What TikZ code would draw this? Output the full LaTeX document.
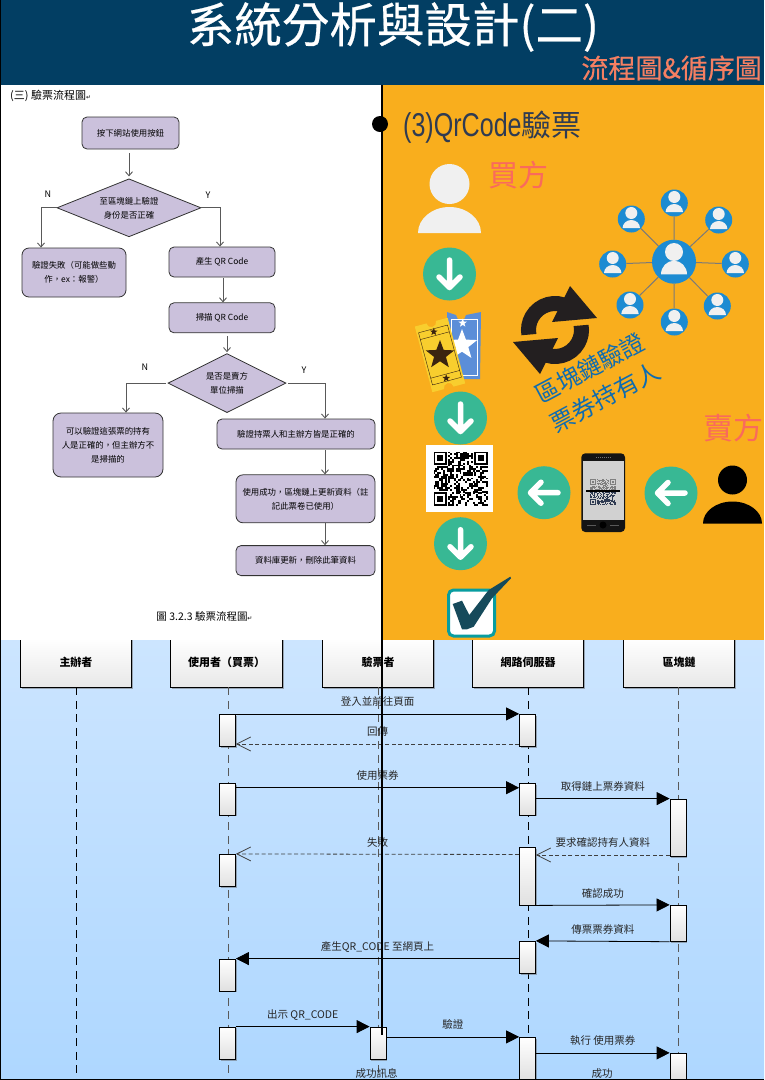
\documentclass[tikz,border=0pt]{standalone}
\usepackage{fontspec}
\setmainfont{Noto Sans CJK TC}
\newfontfamily\retfont{DejaVu Sans}
\newfontfamily\titlefont[FakeStretch=0.76]{Liberation Sans}
\newfontfamily\heavyfont[FakeBold=0.5]{Noto Sans CJK TC}
\usetikzlibrary{arrows.meta,positioning,shapes.geometric,shadows}

\definecolor{headblue}{HTML}{023E63}
\definecolor{subsalmon}{HTML}{F47F62}
\definecolor{panelorange}{HTML}{F9AE1D}
\definecolor{slatetext}{HTML}{2F3B52}
\definecolor{coral}{HTML}{FA6A5C}
\definecolor{flowfill}{HTML}{CBC1DC}
\definecolor{btngreen}{HTML}{38B894}
\definecolor{netblue}{HTML}{1C8BD2}
\definecolor{iconlight}{HTML}{F0F0F0}
\definecolor{rotblue}{HTML}{0F6CB0}
\definecolor{seqtop}{HTML}{CCE5FF}
\definecolor{seqbot}{HTML}{AED7FF}
\definecolor{teal}{HTML}{089DA0}
\definecolor{checkdark}{HTML}{164A5B}
\definecolor{ticketblue}{HTML}{5B8ED8}
\definecolor{ticketyellow}{HTML}{F8CE2E}
\definecolor{ticketdark}{HTML}{3A2410}
\definecolor{cycleblack}{HTML}{231F20}

\tikzset{
 flowbox/.style={draw=black!80,fill=flowfill,rounded corners=5pt,line width=0.8pt,inner sep=0pt,align=center,
   font=\fontsize{8.4}{14}\selectfont},
 flowdia/.style={flowbox,diamond,rounded corners=0pt},
 flowarrow/.style={draw=black!65,line width=0.9pt,-{Straight Barb[length=4pt,width=7pt]}},
 flowtag/.style={font=\fontsize{9}{11}\selectfont,inner sep=0pt},
 arrowbtn/.style={circle,fill=btngreen,minimum size=53pt,inner sep=0pt},
 netnode/.style={circle,fill=netblue,inner sep=0pt,minimum size=27pt},
 netlink/.style={draw=black!30!gray!80,line width=1pt},
 actor/.style={draw=black,line width=0.9pt,top color=white,bottom color=black!9,inner sep=0pt,minimum height=49pt,
   drop shadow={shadow xshift=1.5pt,shadow yshift=-1.5pt,fill=black!60,opacity=0.5},
   font=\bfseries\fontsize{11}{13}\selectfont},
 lifeline/.style={line width=0.9pt,dash pattern=on 8pt off 5.5pt},
 actbar/.style={draw=black,line width=0.8pt,top color=white,bottom color=black!12,inner sep=0pt,minimum width=16pt,
   drop shadow={shadow xshift=1.3pt,shadow yshift=-1.3pt,fill=black!60,opacity=0.5}},
 callmsg/.style={line width=0.8pt,-{Triangle[length=13pt,width=13pt]}},
 retmsg/.style={line width=0.8pt,dash pattern=on 4pt off 2.5pt,black!75,-{Straight Barb[length=14pt,width=14pt]}},
 msglabel/.style={midway,yshift=12pt,text=black!85,font=\fontsize{10.5}{12}\selectfont,inner sep=0pt},
 ticketstar/.style={star,star points=5,star point ratio=2.4,inner sep=0pt},
 arrowglyph/.pic={
   \draw[white,line width=5.5pt,line cap=round,line join=round] (14,0) -- (-13,0) (-3,10.5) -- (-13.5,0) -- (-3,-10.5);
 }
}

% one person: colour, x, y of the feet, head radius, head height, half width, body height
\newcommand{\personicon}[7]{
 \fill[#1] (#2,#3+#5) circle[radius=#4];
 \fill[#1] (#2-#6,#3) arc[start angle=180,end angle=0,x radius=#6,y radius=#7] -- cycle;
}
% a qr pattern: left, top, size, upper colour, lower colour, ground
\newcommand{\qrblock}[6]{
 \pgfmathsetmacro{\qrunit}{#3/29}
 \begin{scope}[shift={(#1,-#2)},x=\qrunit pt,y=\qrunit pt]
  \foreach \i in {0,...,28}{
   \foreach \j in {0,...,28}{
    \pgfmathrandominteger{\qrbit}{0}{1}
    \pgfmathtruncatemacro{\qrskip}{or(and(\i<8,\j<8),or(and(\i>20,\j<8),and(\i<8,\j>20)))}
    \ifnum\qrskip=0 \ifnum\qrbit=1
     \ifnum\j<14 \fill[#4] (\i,-\j) rectangle +(1.03,-1.03); \else \fill[#5] (\i,-\j) rectangle +(1.03,-1.03); \fi
    \fi\fi
   }
  }
  \foreach \i/\j/\c in {0/0/#4,22/0/#4,0/22/#5}{
   \fill[\c] (\i,-\j) rectangle +(7,-7);
   \fill[#6] (\i+1,-\j-1) rectangle +(5,-5);
   \fill[\c] (\i+2,-\j-2) rectangle +(3,-3);
  }
 \end{scope}
}

\begin{document}
\begin{tikzpicture}[x=1pt,y=1pt]
 \useasboundingbox (0,0) rectangle (764,-1080);

 \fill[headblue] (0,0) rectangle (764,-85);
 \node[text=white,font=\heavyfont\fontsize{47.5}{50}\selectfont,inner sep=0pt] (title) at (393,-27) {系統分析與設計(二)};
 \node[text=subsalmon,font=\heavyfont\fontsize{27}{30}\selectfont,inner sep=0pt,anchor=east] (subtitle) at (762,-68) {流程圖\&循序圖};

 % sequence diagram
 \shade[top color=seqtop,bottom color=seqbot] (0,-640) rectangle (764,-1080);

 \foreach \name/\x/\txt in {host/76/主辦者,user/226.5/使用者（買票）,checker/378/驗票者,server/528/網路伺服器,chain/679/區塊鏈}{
  \node[actor,minimum width=111.5pt] (\name) at (\x,-662.5) {\txt};
 }
 \coordinate (hostend) at (76.3,-1080);
 \coordinate (userend) at (228.3,-1080);
 \coordinate (checkerend) at (378,-1080);
 \coordinate (serverend) at (528.3,-1080);
 \coordinate (chainend) at (678.3,-1080);
 \draw[lifeline] (hostend |- host.south) -- (hostend);
 \draw[lifeline,black!65] (userend |- user.south) -- (userend);
 \draw[lifeline,black!65] (checkerend |- checker.south) -- (checkerend);
 \draw[lifeline] (serverend |- server.south) -- (serverend);
 \draw[lifeline,black!65] (chainend |- chain.south) -- (chainend);

 \foreach \name/\x/\ya/\yb in {
   ua/227.5/714.3/746.7, ub/227.5/783.3/815, uc/227.5/854.3/886.7, ud/227.5/959/991, ue/227.5/1027/1059.7,
   ca/378/1027/1059.7,
   sa/527.5/714.3/746.7, sb/527.5/783.3/815, sc/527.5/847.3/905, sd/527.5/941.3/973.7, se/527.5/1037.3/1080,
   ba/678/799/856.3, bb/678/905.3/941.3, bc/678/1053.3/1080}{
  \node[actbar,minimum height={\yb-\ya}] (\name) at (\x,{-(\ya+\yb)/2}) {};
 }

 \draw[callmsg] (ua.north east) -- node[msglabel]{登入並前往頁面} (sa.north west);
 \draw[retmsg] (sa.west |- 0,-744) -- node[msglabel]{回傳} (ua.east |- 0,-744);
 \draw[callmsg] (ub.east |- 0,-787.7) -- node[msglabel]{使用票券} (sb.west |- 0,-787.7);
 \draw[callmsg] (sb.east |- ba.north) -- node[msglabel]{取得鏈上票券資料} (ba.north west);
 \draw[retmsg] (ba.west |- 0,-855) -- node[msglabel]{要求確認持有人資料} (sc.east |- 0,-855);
 \draw[retmsg] (sc.west |- 0,-854.5) -- node[msglabel]{失敗} (uc.north east);
 \draw[callmsg] (sc.south east) -- node[msglabel]{確認成功} (bb.north west);
 \draw[callmsg] (bb.south west) -- node[msglabel]{傳票票券資料} (sd.north east);
 \draw[callmsg] (sd.west |- ud.north) -- node[msglabel]{產生QR\_CODE 至網頁上} (ud.north east);
 \draw[callmsg] (ue.north east) -- node[msglabel]{出示 QR\_CODE} (ca.north west);
 \draw[callmsg] (ca.east |- se.north) -- node[msglabel]{驗證} (se.north west);
 \draw[callmsg] (se.east |- bc.north) -- node[msglabel]{執行 使用票券} (bc.north west);
 \node[text=black!85,font=\fontsize{10.5}{12}\selectfont,inner sep=0pt] (okmsg) at (376.7,-1073.5) {成功訊息};
 \node[text=black!85,font=\fontsize{10.5}{12}\selectfont,inner sep=0pt] (okshort) at (602,-1073.5) {成功};

 % upper panels
 \fill[white] (0,-85) rectangle (382,-640);
 \fill[panelorange] (382,-85) rectangle (764,-640);

 % flow chart
 \node[inner sep=0pt,anchor=west,font=\fontsize{11}{13}\selectfont] (flowhead) at (10,-96) {(三) 驗票流程圖{\retfont\fontsize{6}{7}\selectfont ↵}};
 \node[flowbox,minimum width=97pt,minimum height=32pt] (press) at (130.5,-133) {按下網站使用按鈕};
 \node[flowdia,minimum width=144pt,minimum height=58pt,aspect=2.48,below=29pt of press,xshift=-1.5pt] (auth) {至區塊鏈上驗證\\身份是否正確};
 \node[flowbox,minimum width=104pt,minimum height=49pt,rounded corners=7pt] (fail) at (74,-272.5) {驗證失敗（可能做些動\\作，ex：報警）};
 \node[flowbox,minimum width=106pt,minimum height=30pt] (makeqr) at (222,-262) {產生 QR Code};
 \node[flowbox,minimum width=106pt,minimum height=30pt,below=25pt of makeqr] (scanqr) {掃描 QR Code};
 \node[flowdia,minimum width=118pt,minimum height=59pt,aspect=2,below=20pt of scanqr,xshift=5pt] (seller) {是否是賣方\\單位掃描};
 \node[flowbox,minimum width=110pt,minimum height=64pt,rounded corners=8pt] (partial) at (108,-445) {可以驗證這張票的持有\\人是正確的，但主辦方不\\是掃描的};
 \node[flowbox,minimum width=158pt,minimum height=30pt] (valid) at (296,-434) {驗證持票人和主辦方皆是正確的};
 \node[flowbox,minimum width=139pt,minimum height=48pt,below=25pt of valid,xshift=9.5pt,rounded corners=7pt] (update) {使用成功，區塊鏈上更新資料（註\\記此票卷已使用）};
 \node[flowbox,minimum width=139pt,minimum height=30pt,below=22pt of update] (dbase) {資料庫更新，刪除此筆資料};
 \node[flowtag] (authno) at (48,-194) {N};
 \node[flowtag] (authyes) at (208,-195) {Y};
 \node[flowtag] (sellno) at (145,-367) {N};
 \node[flowtag] (sellyes) at (304,-370) {Y};
 \node[inner sep=0pt,font=\fontsize{10.5}{12}\selectfont] (caption) at (204.5,-616) {圖 3.2.3 驗票流程圖{\retfont\fontsize{6}{7}\selectfont ↵}};

 \draw[flowarrow,shorten <=4pt,shorten >=2pt] (auth.north |- press.south) -- (auth.north);
 \draw[flowarrow] (auth.west) -| ([xshift=-33pt]fail.north);
 \draw[flowarrow] (auth.east) -| ([xshift=-2pt]makeqr.north);
 \draw[flowarrow,shorten <=1pt] ([xshift=1pt]makeqr.south) -- ([xshift=1pt]scanqr.north);
 \draw[flowarrow,shorten <=3pt,shorten >=1pt] (seller.north |- scanqr.south) -- (seller.north);
 \draw[flowarrow,shorten <=2pt] (seller.west) -| ([xshift=18pt]partial.north);
 \draw[flowarrow,shorten <=2pt] (seller.east) -| ([xshift=29pt]valid.north);
 \draw[flowarrow,shorten <=1pt] ([xshift=29pt]valid.south) -- ([xshift=19.5pt]update.north);
 \draw[flowarrow] ([xshift=19.5pt]update.south) -- ([xshift=19.5pt]dbase.north);

 % right panel
 \node[anchor=west,inner sep=0pt,text=slatetext] (qrhead) at (403,-127)
  {{\titlefont\fontsize{33}{36}\selectfont (3)QrCode}{\fontsize{30}{36}\selectfont 驗票}};
 \node[anchor=west,inner sep=0pt,text=coral,font=\fontsize{30}{32}\selectfont] (buyer) at (488.5,-175) {買方};
 \node[anchor=west,inner sep=0pt,text=coral,font=\fontsize{30}{32}\selectfont] (vendor) at (703.5,-428) {賣方};

 \personicon{iconlight}{449.5}{-233}{20}{49}{31.5}{26}
 \personicon{black}{732.5}{-523.5}{14.5}{43.5}{29.5}{22}

 \node[arrowbtn] (downa) at (449.5,-274) {};
 \node[arrowbtn] (downb) at (460.5,-418) {};
 \node[arrowbtn] (downc) at (460.5,-543.7) {};
 \node[arrowbtn] (lefta) at (544,-492.7) {};
 \node[arrowbtn] (leftb) at (671,-493) {};
 \pic[rotate=90] at (downa) {arrowglyph};
 \pic[rotate=90] at (downb) {arrowglyph};
 \pic[rotate=90] at (downc) {arrowglyph};
 \pic at (lefta) {arrowglyph};
 \pic at (leftb) {arrowglyph};

 % tickets
 \fill[ticketblue] (447,-312) -- (456,-315) arc[start angle=180,end angle=360,radius=5] -- (481,-312) -- (480,-379) -- (447,-379) -- cycle;
 \draw[white,line width=0.5pt] (451,-319) rectangle (477,-375);
 \node[ticketstar,fill=white,minimum size=32pt] (bigstar) at (462,-345) {};
 \node[ticketstar,fill=white,minimum size=9pt] (smallstar) at (462.7,-323) {};
 \begin{scope}[shift={(440,-355)},rotate=15]
  \fill[ticketyellow] (-17,34) -- (-5,34) arc[start angle=180,end angle=360,radius=5] -- (17,34) -- (17,-34) -- (5,-34) arc[start angle=0,end angle=180,radius=5] -- (-17,-34) -- cycle;
  \draw[ticketdark,line width=0.4pt] (-15,20) -- (15,20) (-15,-20) -- (15,-20) (-15,27) rectangle (15,-27);
  \node[ticketstar,fill=ticketdark,minimum size=30pt] (darkstar) at (0,0) {};
  \node[ticketstar,fill=ticketdark,minimum size=8pt] (darktop) at (0,24) {};
  \node[ticketstar,fill=ticketdark,minimum size=8pt] (darkbot) at (0,-24) {};
 \end{scope}

 % cycle icon
 \draw[line width=15pt,cycleblack] (555,-330) ++(60:26.5) arc[start angle=60,end angle=190,radius=26.5];
 \draw[line width=15pt,cycleblack] (555,-330) ++(240:26.5) arc[start angle=240,end angle=370,radius=26.5];
 \fill[cycleblack] (570,-286) -- (597,-318) -- (552,-322) -- cycle;
 \fill[cycleblack] (540,-374) -- (513,-342) -- (558,-338) -- cycle;

 % network of holders
 \node[circle,fill=netblue,inner sep=0pt,minimum size=44pt] (hub) at (674,-261.7) {};
 \foreach \name/\x/\y in {nodea/674.3/203,nodeb/718.7/220,nodec/735.3/264,noded/717.3/306,nodee/674.3/322,nodef/630/305,nodeg/612.7/264,nodeh/631.3/219}{
  \node[netnode] (\name) at (\x,-\y) {};
  \draw[netlink] (hub) -- (\name);
  \personicon{iconlight}{\x}{-\y-9}{6}{15}{8.7}{8}
 }
 \personicon{iconlight}{674}{-274.4}{9}{22.4}{13}{13.7}

 \node[rotate=28,text=rotblue,align=center,inner sep=0pt,font=\fontsize{24}{33}\selectfont] (verify) at (597.5,-382.5) {區塊鏈驗證\\票券持有人};

 % qr code and phone
 \node[fill=white,minimum size=67pt,inner sep=0pt] (qrpaper) at (459.5,-478.3) {};
 \pgfmathsetseed{31}
 \qrblock{433.5}{451.5}{54}{black}{black}{white}

 \fill[black!92,rounded corners=4pt] (581.3,-453.3) rectangle (625,-532);
 \fill[black!18] (583,-461) rectangle (623.7,-520);
 \pgfmathsetseed{77}
 \qrblock{590}{479}{26}{black!50}{slatetext}{black!18}
 \draw[black,line width=2pt] (586,-490.7) -- (620,-490.7);
 \draw[black!55,line width=0.7pt,dash pattern=on 1pt off 1pt] (596,-457) -- (611,-457);
 \fill[black] (603,-525) circle[radius=3.5];
 \draw[black!65,line width=0.8pt] (587,-525) -- (596,-525) (610,-525) -- (619,-525);

 % check box
 \node[draw=teal,fill=white,line width=3pt,rounded corners=5pt,minimum size=46pt,inner sep=0pt] (checkbox) at (471.5,-613) {};
 \fill[checkdark] (452.7,-604) -- (462,-600.7) -- (469.3,-615) -- (488.7,-590) -- (510.3,-576.7) -- (511,-578.3) -- (492,-598.3) -- (473.7,-626.7) -- (467,-629.3) -- (462,-629.3) -- cycle;

 % frame and divider
 \node[circle,fill=black,minimum size=16pt,inner sep=0pt] (dot) at (380,-124) {};
 \coordinate (dividertop) at (382,-85);
 \coordinate (dividerend) at (382,-1035);
 \draw[black,line width=2pt] (dividertop) -- (dividerend);
 \draw[black,line width=1.4pt] (0.7,0) -- (0.7,-1079.3) -- (764,-1079.3);
\end{tikzpicture}
\end{document}
